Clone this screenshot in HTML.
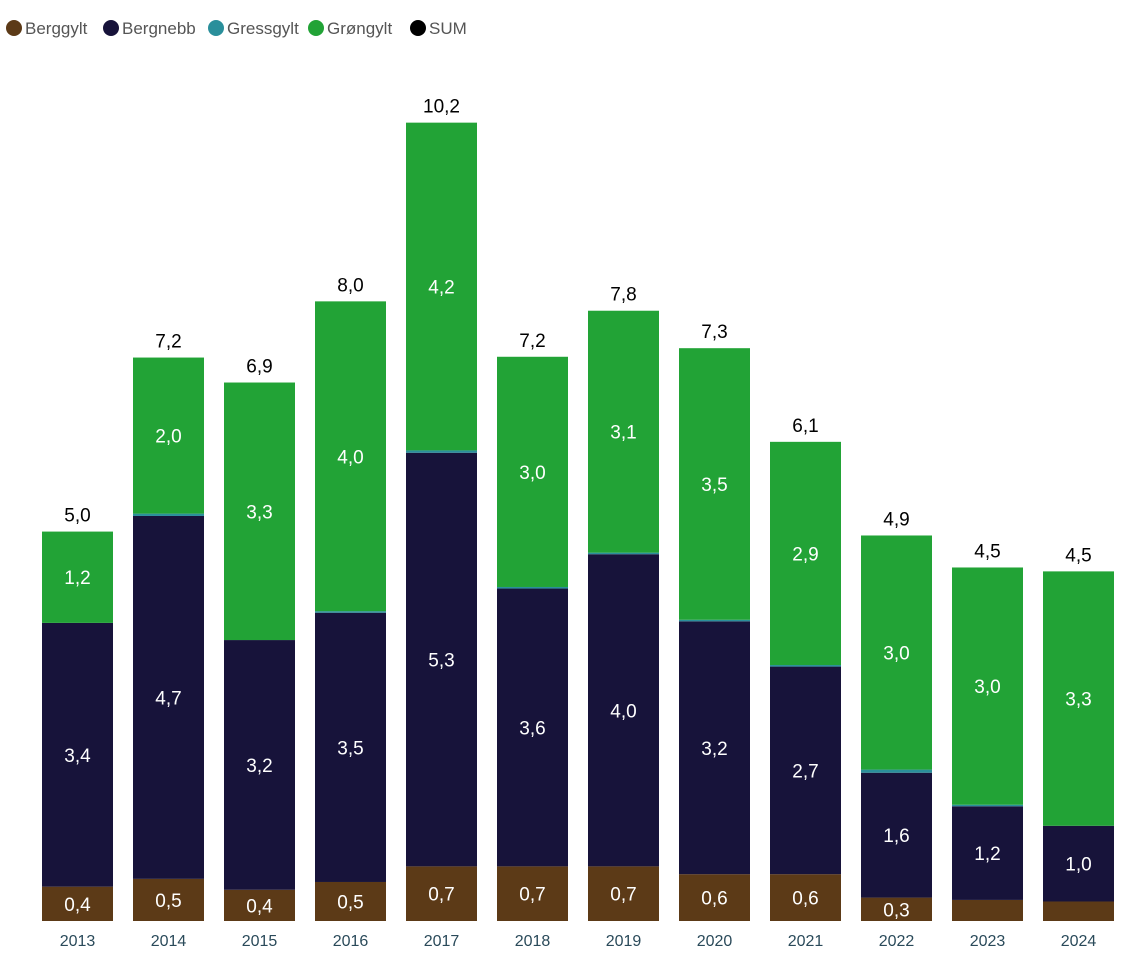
<!DOCTYPE html>
<html><head><meta charset="utf-8"><style>
body{margin:0;background:#fff;font-family:"Liberation Sans",sans-serif;}
svg{display:block}
</style></head><body>
<svg id="chart" width="1142" height="954">
<g id="legend"></g>
<g id="bars"></g>
</svg>
<script>
const years=["2013","2014","2015","2016","2017","2018","2019","2020","2021","2022","2023","2024"];
const berggylt=[0.44,0.54,0.4,0.5,0.7,0.7,0.7,0.6,0.6,0.3,0.27,0.25];
const bergnebb=[3.38,4.65,3.2,3.45,5.3,3.56,4.0,3.24,2.66,1.6,1.2,0.97];
const gressgylt=[0.0,0.03,0.0,0.02,0.03,0.02,0.02,0.02,0.02,0.04,0.02,0.0];
const grongylt=[1.17,2.0,3.3,3.97,4.2,2.95,3.1,3.48,2.86,3.0,3.04,3.26];
const totals=[5.0,7.2,6.9,8.0,10.2,7.2,7.8,7.3,6.1,4.9,4.5,4.5];
const seriesNames=["Berggylt","Bergnebb","Gressgylt","Grøngylt","SUM"];
const colors=["#5c3a17","#17133a","#2a8f9b","#22a336","#000000"];
const NS="http://www.w3.org/2000/svg";
const base=921, scale=78.04, x0=42, step=91, bw=71;
const y=v=>base-v*scale;
const xb=i=>x0+i*step;
function mk(tag,attrs,parent){const e=document.createElementNS(NS,tag);for(const k in attrs)e.setAttribute(k,attrs[k]);parent.appendChild(e);return e;}
const fmt=v=>(Math.round(v*10+1e-9)/10).toFixed(1).replace(".",",");
const lg=document.getElementById("legend");
const legendX=[6,103,208,308,410];
seriesNames.forEach((n,i)=>{
  const lx=legendX[i];
  const g=mk("g",{},lg);
  
  
  mk("circle",{cx:lx+8,cy:28,r:8,fill:colors[i]},g);
  const t=mk("text",{x:lx+19,y:34,"font-size":17,fill:"#555"},g);
  t.textContent=n;
});
const bg=document.getElementById("bars");
const segs=[berggylt,bergnebb,gressgylt,grongylt];
years.forEach((yr,i)=>{
  const g=mk("g",{},bg);
  
  
  let acc=0;
  segs.forEach((arr,s)=>{
    const v=arr[i]; if(v<=0) return;
    const r=mk("rect",{x:xb(i),y:y(acc+v),width:bw,height:v*scale,fill:colors[s]},g);
    
    
    if(s!==2 && v*scale>=22){
      const t=mk("text",{x:xb(i)+bw/2,y:y(acc+v/2)+7,"font-size":19,fill:"#fff","text-anchor":"middle"},g);
      t.textContent=fmt(v);
    }
    acc+=v;
  });
  const st=mk("text",{x:xb(i)+bw/2,y:y(acc)-10,"font-size":19,fill:"#000","text-anchor":"middle"},g);
  
  
  st.textContent=fmt(totals[i]);
  const xl=mk("text",{x:xb(i)+bw/2,y:946,"font-size":16,fill:"#2a4a5a","text-anchor":"middle"},g);
  
  
  xl.textContent=yr;
});
</script>
</body></html>
